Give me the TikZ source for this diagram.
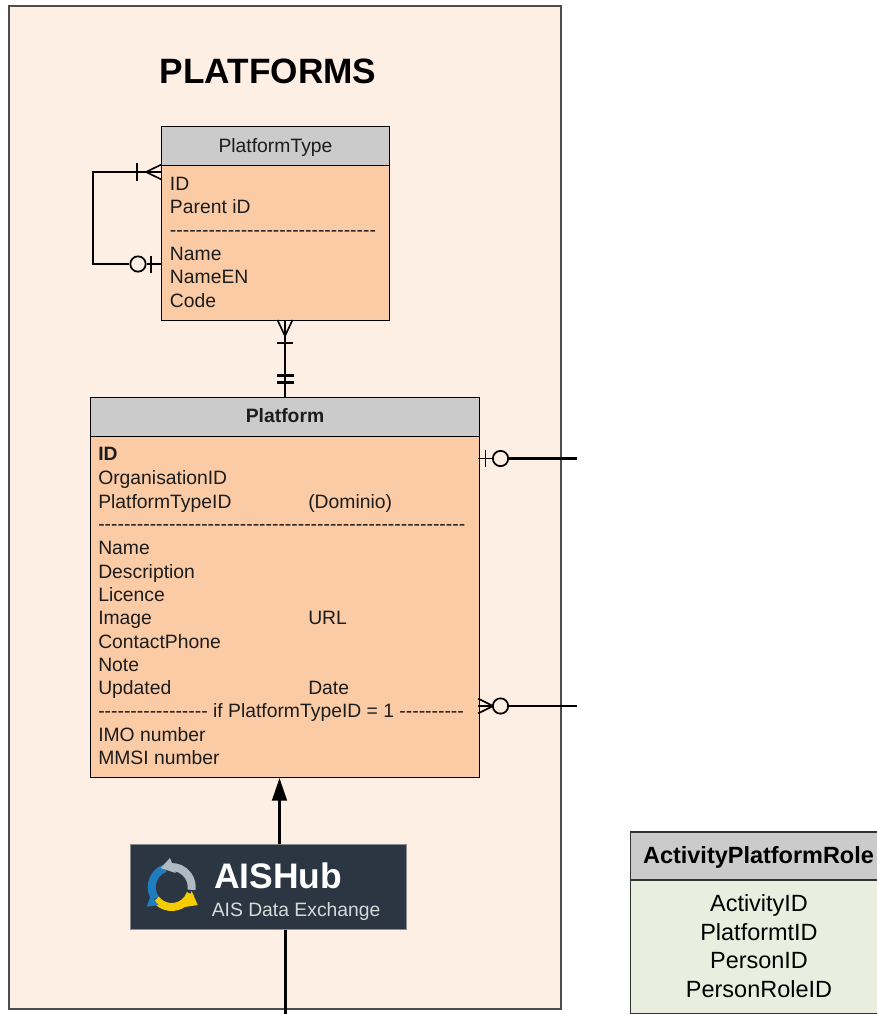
\documentclass[tikz,border=0pt]{standalone}
\usepackage{fontspec}
\setmainfont{Liberation Sans}[Ligatures=TeXOff]
\usetikzlibrary{arrows.meta}
\definecolor{pagebg}{HTML}{FDEFE4}
\definecolor{headgrey}{HTML}{CBCBCB}
\definecolor{bodyor}{HTML}{FBCBA6}
\definecolor{bodygr}{HTML}{EAEEDE}
\definecolor{logobg}{HTML}{2B3642}
\definecolor{inktxt}{HTML}{1C1C1C}
\definecolor{logoblue}{HTML}{1F7DBF}
\definecolor{logogrey}{HTML}{B0BAC3}
\definecolor{logoyel}{HTML}{F5CC00}
\newcommand{\fs}[1]{\fontsize{#1}{#1}\selectfont}
\tikzset{
 x=0.75pt,y=-0.75pt,
 ent/.style={draw=black,line width=0.7pt,inner sep=0pt},
 heavy/.style={line width=1.9pt,black},
 thin mark/.style={line width=1.2pt,black},
 rowtxt/.style={anchor=base west,inner sep=0pt,text=inktxt,font=\fs{14.5}},
 headtxt/.style={anchor=center,inner sep=0pt,text=inktxt},
 greentxt/.style={anchor=base,inner sep=0pt,text=black,font=\fs{17.6}},
 circ/.style={circle,draw=black,line width=1.3pt,fill=none,minimum size=11.5pt,inner sep=0pt},
}
\begin{document}
\begin{tikzpicture}
\useasboundingbox (0,0) rectangle (877,1014);
\fill[white] (0,0) rectangle (877,1014);
% panel
\draw[draw=black!70,line width=0.9pt,fill=pagebg] (9,6) rectangle (561,1009);
\node[headtxt,font=\fs{26.4}\bfseries,text=black] (title) at (268,71) {PLATFORMS};
% PlatformType
\fill[bodyor] (161.5,166) rectangle (389,320);
\fill[headgrey] (161.5,126) rectangle (389,165);
\draw[ent] (161.5,126) rectangle (389,320);
\draw[ent] (161.5,165.5) -- (389,165.5);
\coordinate (ptL) at (161.5,172);
\coordinate (ptL2) at (161.5,264);
\coordinate (ptB) at (285,320);
\node[headtxt,font=\fs{14.5}] (pth) at (275.5,147.5) {PlatformType};
\foreach \i/\t/\yy in {a/ID/190,b/Parent iD/213,c/--------------------------------/236,d/Name/260,e/NameEN/283,f/Code/307}{
 \node[rowtxt] (pt\i) at (169.7,\yy) {\t};
}
% Platform
\fill[bodyor] (90,437) rectangle (479,777);
\fill[headgrey] (90,397) rectangle (479,436);
\draw[ent] (90,397) rectangle (479,777.5);
\draw[ent] (90,436.5) -- (479,436.5);
\coordinate (plT) at (285,397);
\coordinate (plB) at (279.5,778);
\coordinate (plR1) at (479,458.5);
\coordinate (plR2) at (479,706);
\node[headtxt,font=\fs{14.5}\bfseries] (plh) at (285,416) {Platform};
\node[rowtxt,font=\fs{14.5}\bfseries] (plid) at (98,460) {ID};
\foreach \i/\t/\yy in {b/OrganisationID/484,c/PlatformTypeID/508,
 d/---------------------------------------------------------/530,
 e/Name/554,f/Description/578,g/Licence/601,h/Image/624,i/ContactPhone/648,j/Note/671,k/Updated/694,
 l/----------------- if PlatformTypeID = 1 ----------/717,
 m/IMO number/741,n/MMSI number/764}{
 \node[rowtxt] (pl\i) at (98,\yy) {\t};
}
\node[rowtxt] (pv1) at (308,508) {(Dominio)};
\node[rowtxt] (pv2) at (308,624) {URL};
\node[rowtxt] (pv3) at (308,694) {Date};
% self relation
\coordinate (sA) at (93,172);
\coordinate (sB) at (93,264);
\node[circ] (c1) at (138,264) {};
\draw[heavy,line join=miter] (c1.west) -- (sB) -- (sA) -- (137,172);
\draw[thin mark] (136,172) -- (ptL);
\draw[thin mark] (146,172) -- (161.5,164.5);
\draw[thin mark] (146,172) -- (161.5,179.5);
\draw[thin mark] (137,163) -- (137,180.5);
\draw[thin mark] (c1.east) -- (ptL2);
\draw[thin mark] (151,255.5) -- (151,272.5);
% PlatformType-Platform
\coordinate (m1) at (285,336);
\draw[heavy] (plT) -- (m1);
\draw[thin mark] (m1) -- (ptB);
\draw[thin mark] (285,336) -- (277.5,320);
\draw[thin mark] (285,336) -- (292.5,320);
\draw[thin mark] (277,343) -- (293,343);
\draw[heavy] (277,375.5) -- (293.5,375.5);
\draw[heavy] (277,382.5) -- (293.5,382.5);
% right stubs
\coordinate (e1) at (577,458.5);
\coordinate (e2) at (577,706);
\node[circ] (c2) at (500.5,458.5) {};
\node[circ] (c3) at (500.5,706) {};
\draw[heavy] (c2.east) -- (e1);
\draw[heavy] (c3.east) -- (e2);
\draw[thin mark] (c2.west) -- (478,458.5);
\draw[thin mark] (485.5,450) -- (485.5,467);
\draw[thin mark] (c3.west) -- (478,706);
\draw[thin mark] (493,706) -- (478,698.5);
\draw[thin mark] (493,706) -- (478,713.5);
% logo
\node[draw=black!45,line width=0.4pt,fill=logobg,minimum width=207pt,minimum height=64.1pt,inner sep=0pt,anchor=north west] (logo) at (130,843.5) {};
\begin{scope}[shift={(171.7,887)},y=0.75pt]
\draw[line width=6pt,logoblue] (110:20) arc[start angle=110,end angle=215,radius=20];
\draw[line width=6pt,logoyel] (218:20) arc[start angle=218,end angle=340,radius=20];
\draw[line width=6pt,logogrey] (95:20) arc[start angle=95,end angle=-8,radius=20];
\fill[logogrey] (-1.7,29) -- (-11,19) -- (4,14) -- cycle;
\fill[logoyel] (26,-18) -- (20,-4) -- (13,-20) -- cycle;
\fill[logoblue] (-25,-19.7) -- (-21,-9) -- (-13,-18) -- cycle;
\end{scope}
\node[anchor=base west,inner sep=0pt,text=white,font=\fs{26.6}\bfseries] (lg1) at (214,888) {AISHub};
\node[anchor=base west,inner sep=0pt,text=black!15,font=\fs{14.5}] (lg2) at (211.5,916) {AIS Data Exchange};
% arrows
\coordinate (bot) at (285.5,1014);
\draw[heavy,-{Triangle[length=17pt,width=11pt]}] (279.5,844) -- (plB);
\draw[line width=1.6pt,black] (logo.south -| bot) -- (bot);
% green
\fill[bodygr] (630.5,880) rectangle (877,1013.5);
\fill[headgrey] (630.5,832) rectangle (877,880);
\draw[draw=black!80,line width=0.9pt] (877,832) -- (630.5,832) -- (630.5,1013.5) -- (877,1013.5);
\draw[draw=black!80,line width=0.9pt] (630.5,880) -- (877,880);
\node[headtxt,font=\fs{17.6}\bfseries,text=black] (gh) at (758.5,857) {ActivityPlatformRole};
\foreach \i/\t/\yy in {a/ActivityID/911,b/PlatformtID/940,c/PersonID/968,d/PersonRoleID/997}{
 \node[greentxt] (g\i) at (759,\yy) {\t};
}
\end{tikzpicture}
\end{document}
